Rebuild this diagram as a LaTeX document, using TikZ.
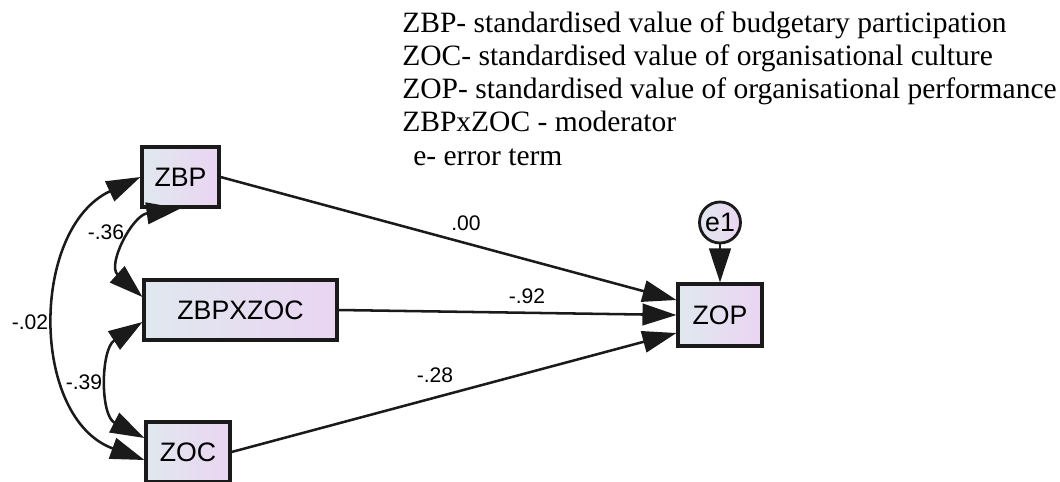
\documentclass[tikz,border=0pt]{standalone}
\usepackage{fontspec}
\setmainfont{Liberation Serif}
\newfontfamily\amosfont{Liberation Sans}
\usepackage{tikz}
\usetikzlibrary{arrows.meta, shapes.geometric}
\definecolor{BoxLeft}{HTML}{E0E8EF}
\definecolor{BoxRight}{HTML}{EAD5F2}
\definecolor{LineGray}{HTML}{1A1A1A}
\tikzset{
  varbox/.style={rectangle, draw=LineGray, line width=2.2pt, left color=BoxLeft, right color=BoxRight, inner sep=0pt, font=\amosfont\fontsize{19}{22}\selectfont},
  errnode/.style={circle, draw=LineGray, line width=2pt, left color=BoxLeft, right color=BoxRight, minimum size=1.025cm, inner sep=0pt, font=\amosfont\fontsize{19}{22}\selectfont},
  patharrow/.style={-{Triangle[length=0.85cm, width=0.54cm]}, line width=1.8pt, LineGray},
  covarrow/.style={{Triangle[length=0.85cm, width=0.54cm]}-{Triangle[length=0.85cm, width=0.54cm]}, line width=1.8pt, LineGray},
  coeflabel/.style={font=\amosfont\fontsize{15}{18}\selectfont, inner sep=1pt},
  legendtext/.style={font=\fontsize{21}{24}\selectfont, inner sep=0pt, anchor=base west}
}

\begin{document}
\begin{tikzpicture}
  \useasboundingbox (0,0) rectangle (26.5,-12.025);

  % key to the variables
  \node[legendtext] (keyzbp) at (10.05,-0.8) {ZBP- standardised value of budgetary participation};
  \node[legendtext] (keyzoc) at (10.05,-1.6325) {ZOC- standardised value of organisational culture};
  \node[legendtext] (keyzop) at (10.05,-2.465) {ZOP- standardised value of organisational performance};
  \node[legendtext] (keymod) at (10.05,-3.2975) {ZBPxZOC - moderator};
  \node[legendtext] (keyerr) at (10.325,-4.13) {e- error term};

  % observed variables
  \node[varbox, minimum width=1.925cm, minimum height=1.5cm] (zbp) at (4.5125,-4.425) {ZBP};
  \node[varbox, minimum width=4.825cm, minimum height=1.5cm] (zbpxzoc) at (6.0125,-7.75) {ZBPXZOC};
  \node[varbox, minimum width=2.1cm, minimum height=1.5cm] (zoc) at (4.7,-11.3) {ZOC};
  \node[varbox, minimum width=2.1cm, minimum height=1.55cm] (zop) at (18,-7.875) {ZOP};
  \node[errnode] (e1) at (18,-5.5625) {e1};

  % regression paths
  \draw[patharrow] (zbp.east) -- ([yshift=0.375cm]zop.west);
  \draw[patharrow] (zbpxzoc.east) -- (zop.west);
  \draw[patharrow] (zoc.east) -- ([yshift=-0.45cm]zop.west);
  \draw[patharrow] (e1) -- (zop);

  % covariances
  \draw[covarrow] (zbp.west) to[out=205, in=160, looseness=1.1] ([yshift=-0.2cm]zoc.west);
  \draw[covarrow] (zbp.south) .. controls +(188:1.22) and +(138:1.2) .. ([yshift=0.325cm]zbpxzoc.west);
  \draw[covarrow] ([yshift=-0.3cm]zbpxzoc.west) to[out=213, in=153, looseness=1.1] ([yshift=0.35cm]zoc.west);

  % estimates
  \node[coeflabel] (bzbp) at (11.65,-5.575) {.00};
  \node[coeflabel] (bmod) at (13.175,-7.4) {-.92};
  \node[coeflabel] (bzoc) at (10.875,-9.375) {-.28};
  \node[coeflabel] (czbpmod) at (2.65,-5.8) {-.36};
  \node[coeflabel] (czbpzoc) at (0.75,-8.05) {-.02};
  \node[coeflabel] (cmodzoc) at (2.1,-9.55) {-.39};
\end{tikzpicture}
\end{document}
